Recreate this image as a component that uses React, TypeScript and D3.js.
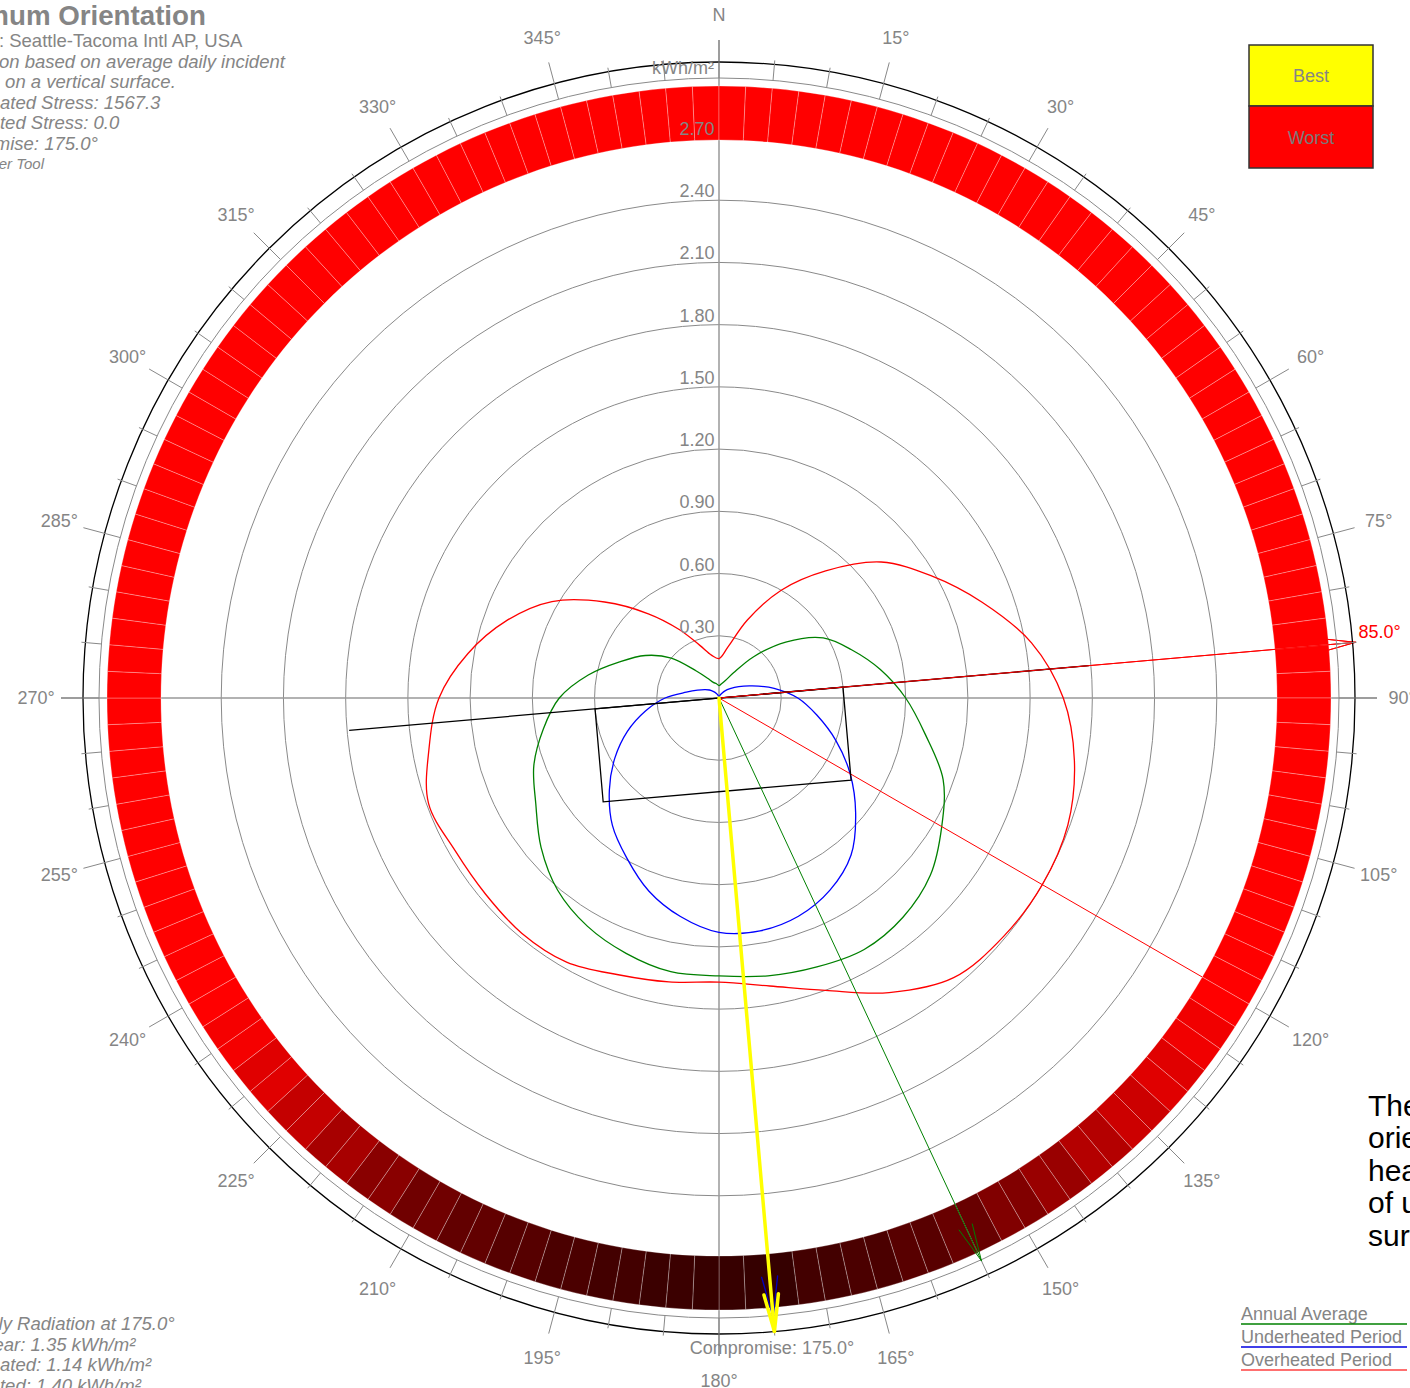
import React from "react";
import * as d3 from "d3";

// orientation samples, degrees clockwise from north
const sampleAngles = [0, 10, 20, 30, 40, 50, 60, 70, 80, 90, 100, 110, 120, 130, 140, 150, 160, 170,
  180, 190, 200, 210, 220, 230, 240, 250, 260, 270, 280, 290, 300, 310, 320, 330, 340, 350];

// average daily incident radiation on a vertical surface (kWh/m²)
const annualAverage = [0.06, 0.07, 0.09, 0.14, 0.26, 0.42, 0.58, 0.68, 0.79, 0.90, 1.01, 1.15, 1.24, 1.33, 1.38, 1.40, 1.38, 1.36,
  1.34, 1.34, 1.31, 1.27, 1.21, 1.12, 1.02, 0.95, 0.86, 0.77, 0.64, 0.51, 0.41, 0.30, 0.17, 0.11, 0.08, 0.07];
const underheatedPeriod = [0.0, 0.005, 0.015, 0.025, 0.045, 0.07, 0.11, 0.17, 0.27, 0.38, 0.48, 0.60, 0.73, 0.86, 0.99, 1.07, 1.12, 1.14,
  1.13, 1.07, 0.99, 0.89, 0.80, 0.69, 0.58, 0.47, 0.36, 0.26, 0.16, 0.11, 0.08, 0.06, 0.04, 0.025, 0.015, 0.005];
const overheatedPeriod = [0.19, 0.25, 0.40, 0.60, 0.80, 1.02, 1.18, 1.35, 1.53, 1.66, 1.74, 1.79, 1.80, 1.79, 1.76, 1.64, 1.50, 1.41,
  1.37, 1.39, 1.42, 1.47, 1.48, 1.47, 1.47, 1.49, 1.42, 1.35, 1.23, 1.09, 0.93, 0.72, 0.53, 0.38, 0.27, 0.21];

// relative stress per 5° of orientation (0 = best, 1 = worst)
const bandLevel = [
  1, 1, 1, 1, 1, 1, 1, 1, 1, 1, 1, 1, 1, 1, 1, 1, 1, 1, 1, 1, 1, 1, 1, 1,
  1.0, 0.93, 0.85, 0.75, 0.63, 0.5, 0.38, 0.26, 0.18, 0.12, 0.08, 0.01, 0.02, 0.04, 0.08, 0.12, 0.17, 0.23, 0.3, 0.42, 0.57, 0.71, 0.85, 0.95, 1.0,
  1, 1, 1, 1, 1, 1, 1, 1, 1, 1, 1, 1, 1, 1, 1, 1, 1, 1, 1, 1, 1, 1, 1,
];

const gridValues = [0.3, 0.6, 0.9, 1.2, 1.5, 1.8, 2.1, 2.4, 2.7];

const compromise = 175;
const bestAnnual = 155;
const bestUnderheated = 175;
const peakOverheated = 120;
const buildingAxis = 85;
const buildingLength = 1.2; // in kWh/m² units of the chart
const buildingDepth = 0.45;
const axisLength = 1.79;

const titleText = "Optimum Orientation";
const infoLines = [
  "Location: Seattle-Tacoma Intl AP, USA",
  "Orientation based on average daily incident",
  "radiation on a vertical surface.",
  "Underheated Stress: 1567.3",
  "Overheated Stress: 0.0",
  "Compromise: 175.0°",
];
const creditText = "© Weather Tool";
const radiationLines = [
  "Avg. Daily Radiation at 175.0°",
  "Entire Year: 1.35 kWh/m²",
  "Underheated: 1.14 kWh/m²",
  "Overheated: 1.40 kWh/m²",
];
const noteLines = ["The optimum", "orientation for", "heating periods", "of useful solar", "surface gain"];
const curveLegend = [
  { label: "Annual Average", color: "#008000" },
  { label: "Underheated Period", color: "#0000e0" },
  { label: "Overheated Period", color: "#ff4040" },
];

const W = 1410;
const H = 1388;
const CX = 719;
const CY = 698;
const FONT = "'Liberation Sans', Arial, sans-serif";
const GREY = "#858585";
const TEXT_LEFT = -71;

const rad = (d: number) => (d * Math.PI) / 180;
const polar = (deg: number, r: number): [number, number] => [CX + r * Math.sin(rad(deg)), CY - r * Math.cos(rad(deg))];

const rScale = d3.scaleLinear().domain([0, 2.7]).range([0, 560]);
const bandColor = d3.scaleLinear<string>().domain([0, 1]).range(["#330000", "#ff0000"]);

const R_BAND_IN = 558;
const R_BAND_OUT = 612;
const R_GRAY = 620;
const R_BLACK = 636;
const R_LONG = 658;
const R_LABEL = 683;

function curvePath(values: number[]) {
  const gen = d3
    .lineRadial<number>()
    .angle((_, i) => rad(sampleAngles[i]))
    .radius((d) => rScale(d))
    .curve(d3.curveCatmullRomClosed.alpha(0.5));
  return gen(values) || "";
}

function Arrow({ angle, tip, color, width, head }: { angle: number; tip: number; color: string; width: number; head: number }) {
  const [x2, y2] = polar(angle, tip);
  const wing = (off: number) => {
    const a = rad(angle + 180 + off);
    return [x2 + head * Math.sin(a), y2 - head * Math.cos(a)];
  };
  const [ax, ay] = wing(-11);
  const [bx, by] = wing(11);
  return (
    <g stroke={color} strokeWidth={width} fill="none" strokeLinecap="round">
      <line x1={CX} y1={CY} x2={x2} y2={y2} />
      <polyline points={`${ax},${ay} ${x2},${y2} ${bx},${by}`} />
    </g>
  );
}

export default function App() {
  const arc = d3.arc();
  const bandAngles = d3.range(0, 360, 5);

  const segments: { d: string; fill: string }[] = [];
  bandAngles.forEach((a, i) => {
    const fill = bandColor(bandLevel[i]);
    [[a - 2.5, a], [a, a + 2.5]].forEach(([s, e]) => {
      segments.push({
        d: arc({ innerRadius: R_BAND_IN, outerRadius: R_BAND_OUT, startAngle: rad(s), endAngle: rad(e) }) || "",
        fill,
      });
    });
  });

  const tickAngles = d3.range(0, 360, 5);
  const labelAngles = d3.range(0, 360, 15);

  // building footprint, rotated to the chosen orientation
  const u = [Math.sin(rad(buildingAxis)), -Math.cos(rad(buildingAxis))];
  const v = [Math.sin(rad(buildingAxis + 90)), -Math.cos(rad(buildingAxis + 90))];
  const half = rScale(buildingLength) / 2;
  const depth = rScale(buildingDepth);
  const corner = (a: number, b: number) => `${CX + a * u[0] + b * v[0]},${CY + a * u[1] + b * v[1]}`;
  const building = [corner(-half, 0), corner(half, 0), corner(half, depth), corner(-half, depth)].join(" ");

  const [axA, ayA] = polar(buildingAxis + 180, rScale(axisLength));
  const [axB, ayB] = polar(buildingAxis, rScale(axisLength));
  const [peakX, peakY] = polar(peakOverheated, R_BAND_IN);
  const [lbx, lby] = polar(buildingAxis, 639);

  return (
    <svg width={W} height={H} style={{ position: "absolute", left: 0, top: 0, background: "#fff" }} fontFamily={FONT}>
      {/* grid rings */}
      {gridValues.map((g) => (
        <circle key={g} cx={CX} cy={CY} r={rScale(g)} fill="none" stroke="#8a8a8a" strokeWidth={1} />
      ))}
      {/* axis cross */}
      <line x1={CX} y1={CY - R_LONG} x2={CX} y2={CY + R_LONG} stroke="#999" strokeWidth={1.5} />
      <line x1={CX - R_LONG} y1={CY} x2={CX + R_LONG} y2={CY} stroke="#999" strokeWidth={1.5} />

      {/* curves */}
      <g transform={`translate(${CX},${CY})`} fill="none" strokeWidth={1.3}>
        <path d={curvePath(overheatedPeriod)} stroke="#ff0000" />
        <path d={curvePath(annualAverage)} stroke="#008000" />
        <path d={curvePath(underheatedPeriod)} stroke="#0000ff" />
      </g>

      {/* building + orientation */}
      <line x1={peakX} y1={peakY} x2={CX} y2={CY} stroke="#ff0000" strokeWidth={1} />
      <Arrow angle={buildingAxis} tip={639} color="#ff0000" width={1} head={40} />
      <line x1={axA} y1={ayA} x2={axB} y2={ayB} stroke="#000" strokeWidth={1.3} />
      <polygon points={building} fill="none" stroke="#000" strokeWidth={1.3} />

      {/* stress band */}
      <g transform={`translate(${CX},${CY})`}>
        {segments.map((s, i) => (
          <path key={i} d={s.d} fill={s.fill} stroke="rgba(255,255,255,0.35)" strokeWidth={0.8} />
        ))}
      </g>
      <Arrow angle={buildingAxis} tip={639} color="#ff0000" width={1} head={40} />

      {/* ring value labels */}
      {gridValues.map((g) => (
        <text key={g} x={697} y={CY - rScale(g) - 3} textAnchor="middle" fontSize={18} fill={GREY}>
          {g.toFixed(2)}
        </text>
      ))}

      {/* outer scale */}
      <circle cx={CX} cy={CY} r={R_GRAY} fill="none" stroke="#8a8a8a" strokeWidth={1} />
      <circle cx={CX} cy={CY} r={R_BLACK} fill="none" stroke="#000" strokeWidth={1.3} />
      {tickAngles.map((a) => {
        const long = a % 15 === 0;
        const [x1, y1] = polar(a, R_GRAY);
        const [x2, y2] = polar(a, long ? R_LONG : 640);
        return <line key={a} x1={x1} y1={y1} x2={x2} y2={y2} stroke="#888" strokeWidth={1} />;
      })}
      {labelAngles.map((a) => {
        const [x, y] = polar(a, R_LABEL);
        return (
          <text key={a} x={x} y={y} textAnchor="middle" dominantBaseline="central" fontSize={18} fill={GREY}>
            {a === 0 ? "N" : `${a}°`}
          </text>
        );
      })}
      <text x={683} y={74} textAnchor="middle" fontSize={18} fill={GREY}>
        kWh/m²
      </text>

      {/* best orientations */}
      <Arrow angle={bestAnnual} tip={621} color="#008000" width={1} head={38} />
      <Arrow angle={bestUnderheated} tip={622} color="#0000c0" width={1.3} head={42} />
      <Arrow angle={compromise} tip={636} color="#ffff00" width={3.5} head={38} />
      <text x={772} y={1354} textAnchor="middle" fontSize={18} fill={GREY}>
        {`Compromise: ${compromise.toFixed(1)}°`}
      </text>
      <text x={lbx + 3} y={lby - 4} fontSize={18} fill="#ff0000">
        {`${buildingAxis.toFixed(1)}°`}
      </text>

      {/* info block */}
      <text x={TEXT_LEFT} y={25} fontSize={27.7} fontWeight="bold" fill={GREY}>
        {titleText}
      </text>
      {infoLines.map((t, i) => (
        <text key={t} x={TEXT_LEFT} y={47 + i * 20.6} fontSize={18.5} fontStyle={i === 0 ? "normal" : "italic"} fill={GREY}>
          {t}
        </text>
      ))}
      <text x={44} y={169} textAnchor="end" fontSize={15} fontStyle="italic" fill={GREY}>
        {creditText}
      </text>

      {/* radiation at compromise */}
      {radiationLines.map((t, i) => (
        <text key={t} x={TEXT_LEFT} y={1330 + i * 20.6} fontSize={18.5} fontStyle="italic" fill={GREY}>
          {t}
        </text>
      ))}

      {/* best / worst legend */}
      <rect x={1249} y={45} width={124} height={61} fill="#ffff00" stroke="#333" strokeWidth={1.5} />
      <rect x={1249} y={106} width={124} height={62} fill={bandColor(1)} stroke="#333" strokeWidth={1.5} />
      <text x={1311} y={82} textAnchor="middle" fontSize={18} fill={GREY}>Best</text>
      <text x={1311} y={144} textAnchor="middle" fontSize={18} fill="#7a7a7a">Worst</text>

      {/* curve legend */}
      {curveLegend.map((c, i) => (
        <g key={c.label}>
          <text x={1241} y={1320 + i * 23} fontSize={18} fill={GREY}>{c.label}</text>
          <line x1={1241} x2={1407} y1={1324 + i * 23} y2={1324 + i * 23} stroke={c.color} strokeWidth={1.5} />
        </g>
      ))}

      {/* note */}
      {noteLines.map((t, i) => (
        <text key={t} x={1368} y={1116 + i * 32.4} fontSize={30} fill="#000">{t}</text>
      ))}
    </svg>
  );
}
